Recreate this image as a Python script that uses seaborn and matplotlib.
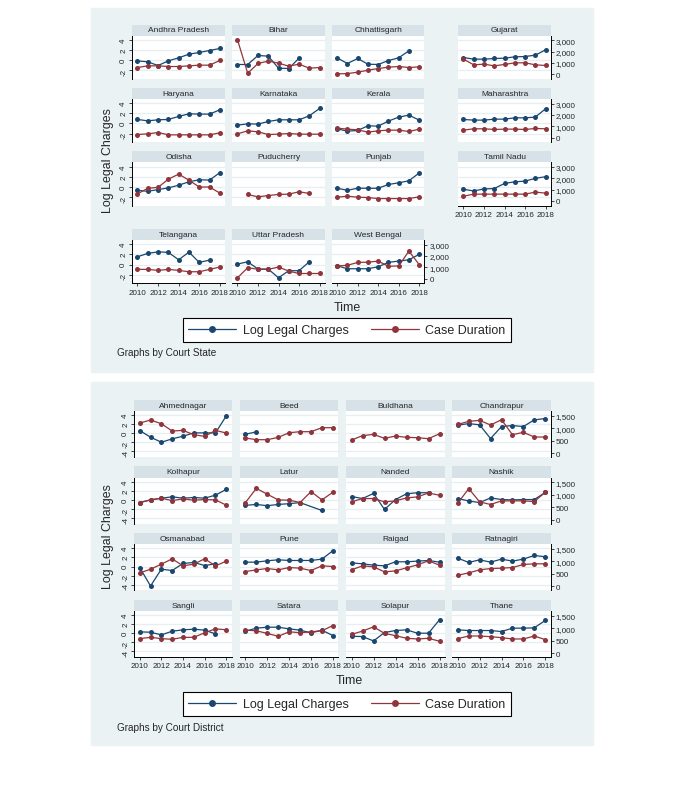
import numpy as np
import pandas as pd
import matplotlib.pyplot as plt
import seaborn as sns
from matplotlib.lines import Line2D
from matplotlib.patches import Rectangle
from matplotlib.ticker import FuncFormatter

# ----------------------------------------------------------------
# 0. SETUP
# ----------------------------------------------------------------
sns.set_theme(style="white")
plt.rcParams['font.family'] = ['Liberation Sans', 'DejaVu Sans']

W, H = 688, 803
BLUE = "#1a476f"
RED = "#90353b"
BG = "#eaf2f3"
STRIP = "#d6e2e8"
GRID = "#e6eef0"
nan = np.nan

# ----------------------------------------------------------------
# 1. DATA
# ----------------------------------------------------------------
years = [2010, 2011, 2012, 2013, 2014, 2015, 2016, 2017, 2018]

states = ["Andhra Pradesh", "Bihar", "Chhattisgarh", "Gujarat",
          "Haryana", "Karnataka", "Kerala", "Maharashtra",
          "Odisha", "Puducherry", "Punjab", "Tamil Nadu",
          "Telangana", "Uttar Pradesh", "West Bengal"]

state_charges = [
    [-0.13, -0.33, -1.05, -0.13, 0.46, 1.18, 1.51, 1.90, 2.30],
    [-0.85, -0.85, 0.92, 0.79, -1.57, -1.64, 0.39, nan, nan],
    [0.46, -0.66, 0.33, -0.79, -0.85, -0.07, 0.46, 1.84, nan],
    [0.52, 0.20, 0.20, 0.33, 0.39, 0.66, 0.72, 0.98, 2.03],
    [0.79, 0.52, 0.72, 0.79, 1.38, 1.90, 1.84, 1.84, 2.69],
    [-0.33, -0.07, -0.13, 0.39, 0.72, 0.72, 0.72, 1.51, 2.95],
    [-1.05, -1.51, -1.38, -0.46, -0.52, 0.46, 1.25, 1.64, 0.66],
    [0.79, 0.66, 0.66, 0.85, 0.85, 1.11, 1.11, 1.25, 2.89],
    [-0.67, -0.87, -0.53, -0.20, 0.33, 1.00, 1.40, 1.33, 2.80],
    [nan, nan, nan, nan, nan, nan, nan, nan, nan],
    [-0.27, -0.67, -0.27, -0.27, -0.27, 0.47, 0.80, 1.20, 2.73],
    [-0.47, -0.80, -0.40, -0.33, 0.67, 1.00, 1.13, 1.67, 2.00],
    [1.53, 2.20, 2.50, 2.40, 0.94, 2.45, 0.43, 0.88, nan],
    [0.10, 0.55, -0.88, -0.88, -2.60, -1.20, -1.20, 0.55, nan],
    [-0.24, -0.82, -0.82, -0.82, -0.43, 0.43, 0.69, 0.94, 2.00],
]

state_duration = [
    [593, 742, 742, 682, 682, 742, 801, 801, 1217],
    [3056, 89, 950, 1157, 979, 712, 890, 534, 593],
    [30, 59, 178, 356, 504, 623, 682, 593, 653],
    [1335, 831, 890, 742, 861, 1009, 1009, 831, 772],
    [267, 326, 445, 237, 237, 237, 237, 237, 415],
    [326, 593, 504, 267, 297, 356, 297, 297, 297],
    [831, 742, 682, 475, 593, 653, 653, 534, 742],
    [653, 772, 772, 712, 742, 742, 712, 801, 772],
    [630, 1110, 1200, 1920, 2370, 1830, 1230, 1230, 690],
    [nan, 570, 360, 480, 570, 600, 810, 660, nan],
    [330, 420, 330, 300, 210, 210, 210, 210, 360],
    [420, 600, 600, 600, 600, 600, 600, 780, 690],
    [818, 818, 727, 818, 727, 609, 609, 818, 1027],
    [64, 973, 818, 818, 1027, 664, 455, 455, 455],
    [1118, 1182, 1427, 1455, 1545, 1091, 1118, 2427, 1245],
]

districts = ["Ahmednagar", "Beed", "Buldhana", "Chandrapur",
             "Kolhapur", "Latur", "Nanded", "Nashik",
             "Osmanabad", "Pune", "Raigad", "Ratnagiri",
             "Sangli", "Satara", "Solapur", "Thane"]

district_charges = [
    [0.59, -0.88, -1.99, -1.25, -0.66, 0.07, 0.07, 0.07, 3.82],
    [-0.22, 0.29, nan, nan, nan, nan, nan, nan, nan],
    [nan, nan, nan, nan, nan, nan, nan, nan, nan],
    [1.76, 2.13, 1.84, -1.18, 1.47, 1.69, 1.47, 2.94, 3.24],
    [-0.60, 0.00, 0.38, 0.68, 0.38, 0.53, 0.38, 1.05, 2.33],
    [-1.20, -1.00, -1.28, -1.00, -0.83, -0.60, nan, -2.33, nan],
    [0.75, 0.30, 1.43, -2.10, 0.08, 1.35, 1.58, 1.58, nan],
    [0.30, -0.23, -0.60, 0.45, 0.08, 0.00, 0.08, 0.08, 1.65],
    [-0.22, -4.30, -0.59, -0.89, 0.67, 0.89, 0.22, 0.59, nan],
    [0.96, 0.96, 1.26, 1.48, 1.33, 1.33, 1.33, 1.63, 3.48],
    [0.81, 0.59, 0.30, 0.15, 1.04, 1.04, 1.19, 1.33, 0.96],
    [1.85, 0.89, 1.48, 0.96, 1.63, 1.19, 1.63, 2.44, 2.15],
    [0.30, 0.22, -0.37, 0.44, 0.74, 0.89, 0.67, -0.15, nan],
    [0.44, 1.11, 1.33, 1.33, 0.96, 0.67, 0.07, 0.67, -0.52],
    [-0.67, -0.74, -1.70, 0.15, 0.59, 0.74, 0.00, 0.00, 2.96],
    [0.74, 0.59, 0.59, 0.59, 0.37, 1.11, 1.11, 1.19, 2.81],
]

district_duration = [
    [1206, 1327, 1179, 884, 911, 737, 670, 911, 804],
    [603, 536, 536, 630, 817, 858, 858, 1018, 1018],
    [523, 697, 750, 590, 683, 630, 616, 576, 777],
    [1152, 1273, 1313, 1126, 1340, 737, 831, 643, 643],
    [692, 798, 865, 771, 838, 785, 811, 798, 585],
    [692, 1263, 1024, 798, 785, 692, 1130, 798, 1104],
    [718, 851, 851, 718, 758, 878, 918, 1077, 984],
    [665, 1250, 718, 612, 758, 758, 758, 731, 1104],
    [540, 688, 891, 1107, 823, 891, 1107, 823, 1012],
    [594, 662, 716, 662, 756, 729, 635, 824, 797],
    [662, 824, 783, 581, 621, 743, 864, 1026, 851],
    [446, 540, 662, 716, 729, 756, 878, 905, 905],
    [579, 631, 579, 552, 631, 631, 815, 973, 934],
    [921, 894, 789, 671, 855, 815, 855, 894, 1105],
    [750, 881, 1052, 789, 697, 592, 565, 592, 473],
    [579, 684, 684, 658, 618, 565, 565, 684, 539],
]


def to_long(names, charges, duration):
    rows = []
    for name, ch, du in zip(names, charges, duration):
        for yr, c, d in zip(years, ch, du):
            rows.append((name, yr, c, d))
    return pd.DataFrame(rows, columns=["unit", "year", "charges", "duration"])


def rect(x0, y0, x1, y1):
    return [x0 / W, 1 - y1 / H, (x1 - x0) / W, (y1 - y0) / H]


fig = plt.figure(figsize=(W / 100, H / 100), dpi=100)
fig.patch.set_facecolor("white")


# ----------------------------------------------------------------
# 2. ONE BLOCK OF SMALL MULTIPLES
# ----------------------------------------------------------------
def draw_block(df, names, cols, row_tops, plot_h, strip_h, ylim, yticks,
               rlim, rticks, bg_box):
    fig.patches.append(Rectangle((bg_box[0] / W, 1 - bg_box[3] / H),
                                 (bg_box[2] - bg_box[0]) / W,
                                 (bg_box[3] - bg_box[1]) / H,
                                 transform=fig.transFigure, color=BG,
                                 zorder=-10))
    n = len(names)
    for i, name in enumerate(names):
        r, c = divmod(i, 4)
        x0, x1 = cols[c]
        top = row_tops[r]
        last_in_row = (c == 3) or (i == n - 1)
        has_below = i + 4 < n

        sax = fig.add_axes(rect(x0, top - strip_h, x1, top))
        sax.set_facecolor(STRIP)
        sax.set_xticks([])
        sax.set_yticks([])
        for s in sax.spines.values():
            s.set_visible(False)
        sax.text(0.5, 0.5, name, ha="center", va="center", fontsize=6,
                 transform=sax.transAxes)

        ax = fig.add_axes(rect(x0, top, x1, top + plot_h))
        ax.set_facecolor("white")
        sub = df[df["unit"] == name]
        b = sub.dropna(subset=["charges"])
        if len(b):
            sns.lineplot(data=b, x="year", y="charges", ax=ax, color=BLUE,
                         marker="o", markersize=3.6, markeredgewidth=0,
                         linewidth=0.9, estimator=None, legend=False)
        ax2 = ax.twinx()
        d = sub.dropna(subset=["duration"])
        if len(d):
            sns.lineplot(data=d, x="year", y="duration", ax=ax2, color=RED,
                         marker="o", markersize=3.6, markeredgewidth=0,
                         linewidth=0.9, estimator=None, legend=False)

        ax.set_xlim(2009.5, 2018.5)
        ax.set_ylim(*ylim)
        ax.set_yticks(yticks)
        ax2.set_ylim(*rlim)
        ax2.set_yticks(rticks)
        ax.set_xticks([2010, 2012, 2014, 2016, 2018])
        ax.set_xlabel("")
        ax.set_ylabel("")
        ax2.set_ylabel("")
        ax.grid(axis="y", color=GRID, linewidth=0.9)
        ax.grid(axis="x", visible=False)
        ax2.grid(False)

        for a in (ax, ax2):
            for s in a.spines.values():
                s.set_visible(False)
                s.set_linewidth(0.7)
                s.set_color("black")
        ax.spines["left"].set_visible(c == 0)
        ax.spines["bottom"].set_visible(not has_below)
        ax2.spines["right"].set_visible(last_in_row)

        ax.tick_params(axis="y", left=(c == 0), labelleft=(c == 0),
                       right=False, labelright=False, direction="out",
                       length=2.2, width=0.6, pad=1.5, labelsize=5.8,
                       labelrotation=90)
        ax.tick_params(axis="x", bottom=not has_below,
                       labelbottom=not has_below, direction="out",
                       length=2.2, width=0.6, pad=1.5, labelsize=5.8)
        ax2.tick_params(axis="y", right=last_in_row, labelright=last_in_row,
                        left=False, labelleft=False, direction="out",
                        length=2.2, width=0.6, pad=1.5, labelsize=5.8)
        ax.xaxis.set_major_formatter(FuncFormatter(lambda v, p: f"{v:.0f}"))
        ax.yaxis.set_major_formatter(FuncFormatter(lambda v, p: f"{v:.0f}"))
        ax2.yaxis.set_major_formatter(FuncFormatter(lambda v, p: f"{v:,.0f}"))


def block_labels(ylab_y, time_x, time_y, leg_y, note, note_y):
    fig.text(108 / W, 1 - ylab_y / H, "Log Legal Charges", rotation=90,
             ha="center", va="center", fontsize=8.9)
    fig.text(time_x / W, 1 - time_y / H, "Time", ha="center", va="center",
             fontsize=8.9)
    handles = [Line2D([], [], color=BLUE, marker="o", markersize=5,
                      markeredgewidth=0, linewidth=0.9),
               Line2D([], [], color=RED, marker="o", markersize=5,
                      markeredgewidth=0, linewidth=0.9)]
    leg = fig.legend(handles, ["Log Legal Charges", "Case Duration"],
                     loc="center", bbox_to_anchor=(347 / W, 1 - leg_y / H),
                     ncol=2, frameon=True, fancybox=False, framealpha=1,
                     facecolor="white", edgecolor="black", fontsize=9,
                     handlelength=3.8, handletextpad=0.55, columnspacing=1.8,
                     borderpad=0.45)
    leg.get_frame().set_linewidth(0.8)
    fig.text(117 / W, 1 - note_y / H, note, ha="left", va="center",
             fontsize=7.2)


# ----------------------------------------------------------------
# 3. TOP: BY COURT STATE
# ----------------------------------------------------------------
state_df = to_long(states, state_charges, state_duration)
draw_block(state_df, states,
           cols=[(132.3, 225), (232.3, 324.7), (332, 424.3), (458.3, 550.7)],
           row_tops=[36.5, 99.8, 163.2, 240.9], plot_h=43.5, strip_h=11,
           ylim=(-3.7, 4.85), yticks=[4, 2, 0, -2],
           rlim=(-420, 3420), rticks=[0, 1000, 2000, 3000],
           bg_box=(91, 9, 593, 373))
block_labels(161, 347, 308, 331, "Graphs by Court State", 353)

# ----------------------------------------------------------------
# 4. BOTTOM: BY COURT DISTRICT
# ----------------------------------------------------------------
district_df = to_long(districts, district_charges, district_duration)
draw_block(district_df, districts,
           cols=[(134.3, 231.7), (240, 338.3), (346, 445), (452.3, 550.7)],
           row_tops=[412, 478.7, 545.3, 612], plot_h=46, strip_h=11.5,
           ylim=(-5.25, 4.9), yticks=[4, 2, 0, -2, -4],
           rlim=(-160, 1690), rticks=[0, 500, 1000, 1500],
           bg_box=(91, 383, 593, 746))
block_labels(537, 349, 681, 705, "Graphs by Court District", 728)

fig.savefig("out.png", dpi=100)
